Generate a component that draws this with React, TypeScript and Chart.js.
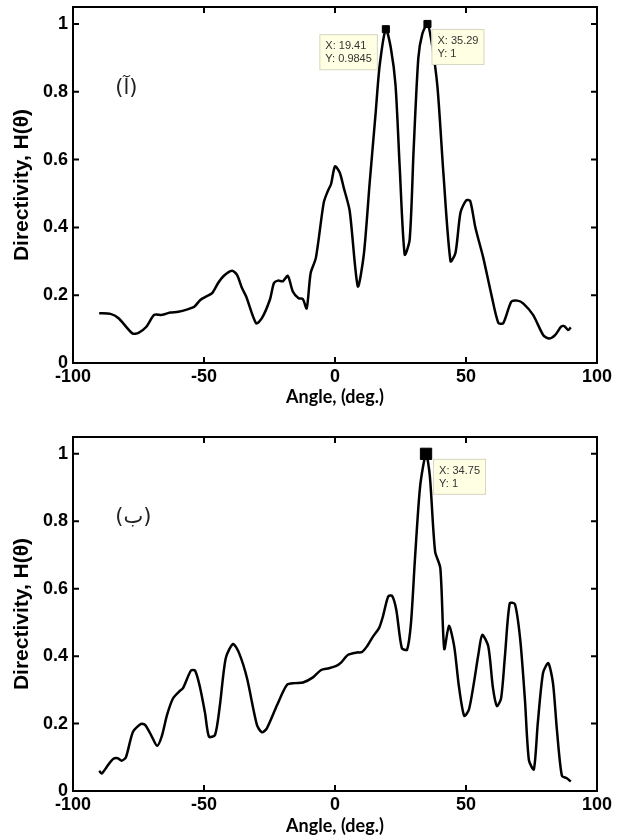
import React, { useEffect, useRef } from 'react';
import { Chart, registerables } from 'chart.js';

Chart.register(...registerables);

// ---------- data ----------
const angleA = [-90, -85.7, -82.6, -77.3, -75, -72, -69, -66, -62.9, -59.8, -56, -53.7, -51.4, -49.2, -46.9, -44.6, -42.3, -39.3, -37.4, -35.5, -33.9, -30.1, -27.9, -24.8, -23.3, -21.8, -19.9, -18, -16.1, -13.9, -12.3, -10.8, -9.3, -7.3, -4.3, -2.7, -1.5, 0, 1.8, 3.3, 5.6, 8.7, 11, 13.2, 15.5, 17, 19.41, 21.3, 23.1, 24.7, 26.6, 28.5, 30, 31.8, 33.3, 35.29, 36.8, 39.1, 41.4, 44.1, 46, 47.9, 50.1, 51.6, 53.6, 56.6, 59.7, 62.3, 64.2, 67.3, 69.6, 71.8, 75.6, 79.5, 81.7, 84, 86.3, 87.5, 89, 90];
const dirA = [0.147, 0.145, 0.132, 0.087, 0.089, 0.107, 0.142, 0.142, 0.149, 0.151, 0.159, 0.166, 0.186, 0.196, 0.206, 0.236, 0.258, 0.272, 0.26, 0.221, 0.196, 0.117, 0.132, 0.188, 0.236, 0.243, 0.241, 0.257, 0.211, 0.191, 0.189, 0.161, 0.265, 0.31, 0.473, 0.508, 0.528, 0.58, 0.562, 0.518, 0.449, 0.226, 0.32, 0.528, 0.736, 0.874, 0.9845, 0.93, 0.82, 0.577, 0.32, 0.364, 0.627, 0.899, 0.97, 1.0, 0.95, 0.815, 0.557, 0.3, 0.325, 0.444, 0.48, 0.478, 0.399, 0.31, 0.201, 0.119, 0.117, 0.181, 0.184, 0.176, 0.142, 0.082, 0.072, 0.082, 0.107, 0.109, 0.097, 0.105];

const angleB = [-90, -89, -86.6, -84.7, -82.9, -81.4, -79.8, -77.1, -74, -72.5, -70.2, -67.9, -66.1, -64.1, -61.8, -59.5, -58, -55, -53.4, -51.6, -49.6, -48.1, -45.8, -44, -41.7, -38.9, -36.6, -33.6, -29.8, -27.9, -26, -22.1, -18.3, -15.3, -12.2, -8.4, -5.3, -2.3, 0.5, 2.3, 5, 8.4, 10.2, 12.2, 14.5, 16.8, 18.3, 20.3, 21.8, 23.4, 25.5, 27.5, 29, 30.5, 32.5, 34.75, 36.2, 38.2, 40.2, 41.7, 43.5, 45.5, 47.3, 49.3, 51.1, 53, 54.7, 56.2, 58.5, 60.3, 61.8, 63.4, 64.9, 66.7, 68.7, 70.7, 72.5, 74, 75.9, 77.4, 79.4, 81.4, 83.2, 84.7, 86.6, 88.5, 90];
const dirB = [0.06, 0.052, 0.077, 0.095, 0.097, 0.09, 0.1, 0.176, 0.199, 0.196, 0.166, 0.134, 0.163, 0.226, 0.275, 0.295, 0.305, 0.357, 0.357, 0.31, 0.231, 0.161, 0.166, 0.25, 0.394, 0.436, 0.409, 0.335, 0.196, 0.174, 0.186, 0.255, 0.315, 0.32, 0.322, 0.337, 0.359, 0.364, 0.371, 0.381, 0.404, 0.411, 0.412, 0.429, 0.458, 0.483, 0.518, 0.577, 0.579, 0.537, 0.424, 0.419, 0.498, 0.686, 0.904, 1.0, 0.934, 0.711, 0.661, 0.421, 0.49, 0.429, 0.31, 0.223, 0.241, 0.32, 0.404, 0.463, 0.429, 0.305, 0.252, 0.275, 0.404, 0.557, 0.554, 0.449, 0.27, 0.092, 0.064, 0.201, 0.35, 0.379, 0.32, 0.181, 0.045, 0.038, 0.028];

const tipXA = [19.41, 35.29];
const tipYA = [0.9845, 1];
const tipTextXA = ['X: 19.41', 'X: 35.29'];
const tipTextYA = ['Y: 0.9845', 'Y: 1'];

const tipXB = [34.75];
const tipYB = [1];
const tipTextXB = ['X: 34.75'];
const tipTextYB = ['Y: 1'];

const xTicks = [-100, -50, 0, 50, 100];
const yTicks = [0, 0.2, 0.4, 0.6, 0.8, 1];
const xTickLabels = ['-100', '-50', '0', '50', '100'];
const yTickLabels = ['0', '0.2', '0.4', '0.6', '0.8', '1'];

const labelA = '(آ)';
const labelB = '(ب)';

const xTitle = 'Angle, (deg.)';
const yTitle = 'Directivity, H(θ)';

// ---------- drawing helpers ----------
const decorPlugin = {
  id: 'decor',
  afterDatasetsDraw(chart: any, _args: any, o: any) {
    const { ctx, chartArea } = chart;
    const { left, right, top, bottom } = chartArea;
    const x = chart.scales.x;
    const y = chart.scales.y;
    ctx.save();
    // frame
    ctx.strokeStyle = '#000';
    ctx.lineWidth = 2;
    ctx.strokeRect(left, top, right - left, bottom - top);
    ctx.beginPath();
    for (const v of xTicks) {
      const px = x.getPixelForValue(v);
      ctx.moveTo(px, bottom);
      ctx.lineTo(px, bottom - 6);
      ctx.moveTo(px, top);
      ctx.lineTo(px, top + 6);
    }
    for (const v of yTicks) {
      const py = y.getPixelForValue(v);
      ctx.moveTo(left, py);
      ctx.lineTo(left + 6, py);
      ctx.moveTo(right, py);
      ctx.lineTo(right - 6, py);
    }
    ctx.stroke();

    // panel label
    ctx.font = '21px "DejaVu Sans"';
    ctx.fillStyle = '#222';
    ctx.textAlign = 'center';
    ctx.textBaseline = 'middle';
    ctx.fillText(o.label, x.getPixelForValue(o.labelX), y.getPixelForValue(o.labelY));

    // data tips
    ctx.font = '11px "Liberation Sans", Arial, sans-serif';
    ctx.textAlign = 'left';
    o.tipX.forEach((tx: number, i: number) => {
      const px = x.getPixelForValue(tx);
      const py = y.getPixelForValue(o.tipY[i]);
      const w = Math.max(ctx.measureText(o.textX[i]).width, ctx.measureText(o.textY[i]).width) + 12;
      const h = 36;
      const side = o.side[i];
      const bx = side < 0 ? px - 8 - w : px + o.dx;
      const by = py + o.dy;
      ctx.fillStyle = '#FFFFE4';
      ctx.fillRect(bx, by, w, h);
      ctx.strokeStyle = '#D6D6C2';
      ctx.lineWidth = 1;
      ctx.strokeRect(bx + 0.5, by + 0.5, w - 1, h - 1);
      ctx.fillStyle = '#333';
      ctx.fillText(o.textX[i], bx + 6, by + 12);
      ctx.fillText(o.textY[i], bx + 6, by + 25);
    });
    ctx.restore();
  },
};

function makeConfig(p: any) {
  const line = p.xs.map((v: number, i: number) => ({ x: v, y: p.ys[i] }));
  const tips = p.tipX.map((v: number, i: number) => ({ x: v, y: p.tipY[i] }));
  const tickFont = { family: '"Liberation Sans", Arial, sans-serif', size: 18, weight: 'bold' as const };
  return {
    type: 'line' as const,
    data: {
      datasets: [
        {
          data: tips,
          showLine: false,
          pointStyle: 'rect',
          pointRadius: p.markerR,
          pointHoverRadius: p.markerR,
          backgroundColor: '#000',
          borderColor: '#000',
          borderWidth: 1,
          order: 0,
        },
        {
          data: line,
          borderColor: '#000',
          borderWidth: 2.5,
          pointRadius: 0,
          tension: 0.25,
          fill: false,
          order: 1,
        },
      ],
    },
    options: {
      responsive: false,
      animation: false,
      events: [],
      layout: { padding: { left: 0, right: 22, top: p.padTop, bottom: 0 } },
      plugins: {
        legend: { display: false },
        tooltip: { enabled: false },
        decor: {
          label: p.label,
          labelX: p.labelX,
          labelY: p.labelY,
          tipX: p.tipX,
          tipY: p.tipY,
          textX: p.textX,
          textY: p.textY,
          side: p.side,
          dx: p.dx,
          dy: p.dy,
        },
      },
      scales: {
        x: {
          type: 'linear',
          min: -100,
          max: 100,
          afterBuildTicks: (s: any) => {
            s.ticks = xTicks.map((v) => ({ value: v }));
          },
          afterFit: (s: any) => {
            s.height = p.xH;
            s.paddingLeft = 0;
            s.paddingRight = 0;
          },
          ticks: {
            font: tickFont,
            color: '#000',
            padding: 3,
            maxRotation: 0,
            autoSkip: false,
            callback: (v: number) => {
              const i = xTicks.indexOf(v);
              return i >= 0 ? xTickLabels[i] : '';
            },
          },
          grid: { display: false, drawTicks: false },
          border: { display: false },
          title: {
            display: true,
            text: xTitle,
            color: '#000',
            font: { family: 'Lato, "Open Sans", sans-serif', size: 18, weight: 'bold', lineHeight: 1.1 },
            padding: { top: 0, bottom: p.xTitlePad },
          },
        },
        y: {
          type: 'linear',
          min: 0,
          max: 1.05,
          afterBuildTicks: (s: any) => {
            s.ticks = yTicks.map((v) => ({ value: v }));
          },
          afterFit: (s: any) => {
            s.width = 73;
            s.paddingTop = 0;
            s.paddingBottom = 0;
          },
          ticks: {
            font: tickFont,
            color: '#000',
            padding: 5,
            callback: (v: number) => {
              const i = yTicks.findIndex((t) => Math.abs(t - v) < 1e-9);
              return i >= 0 ? yTickLabels[i] : '';
            },
          },
          grid: { display: false, drawTicks: false },
          border: { display: false },
          title: {
            display: true,
            text: yTitle,
            color: '#000',
            font: { family: '"Liberation Sans", Arial, sans-serif', size: 21, weight: 'bold', lineHeight: 1.2 },
            padding: { top: 10, bottom: 0 },
          },
        },
      },
    },
    plugins: [decorPlugin],
  };
}

function Panel(props: any) {
  const ref = useRef<HTMLCanvasElement | null>(null);
  useEffect(() => {
    if (!ref.current) return;
    const chart = new Chart(ref.current, makeConfig(props) as any);
    return () => chart.destroy();
  }, []);
  return (
    <div style={{ position: 'absolute', left: 0, top: props.top, width: 619, height: 418 }}>
      <canvas ref={ref} width={619} height={418} style={{ width: 619, height: 418, display: 'block' }} />
    </div>
  );
}

export default function App() {
  return (
    <div style={{ position: 'absolute', left: 0, top: 0, width: 619, height: 836, background: '#fff', overflow: 'hidden' }}>
      <Panel
        top={0}
        xs={angleA}
        ys={dirA}
        tipX={tipXA}
        tipY={tipYA}
        textX={tipTextXA}
        textY={tipTextYA}
        side={[-1, 1]}
        dx={4}
        dy={5}
        markerR={5}
        label={labelA}
        labelX={-79.6}
        labelY={0.81}
        padTop={7}
        xH={55}
        xTitlePad={11}
      />
      <Panel
        top={418}
        xs={angleB}
        ys={dirB}
        tipX={tipXB}
        tipY={tipYB}
        textX={tipTextXB}
        textY={tipTextYB}
        side={[1]}
        dx={7}
        dy={5}
        markerR={8}
        label={labelB}
        labelX={-77}
        labelY={0.81}
        padTop={19}
        xH={45}
        xTitlePad={0}
      />
    </div>
  );
}
